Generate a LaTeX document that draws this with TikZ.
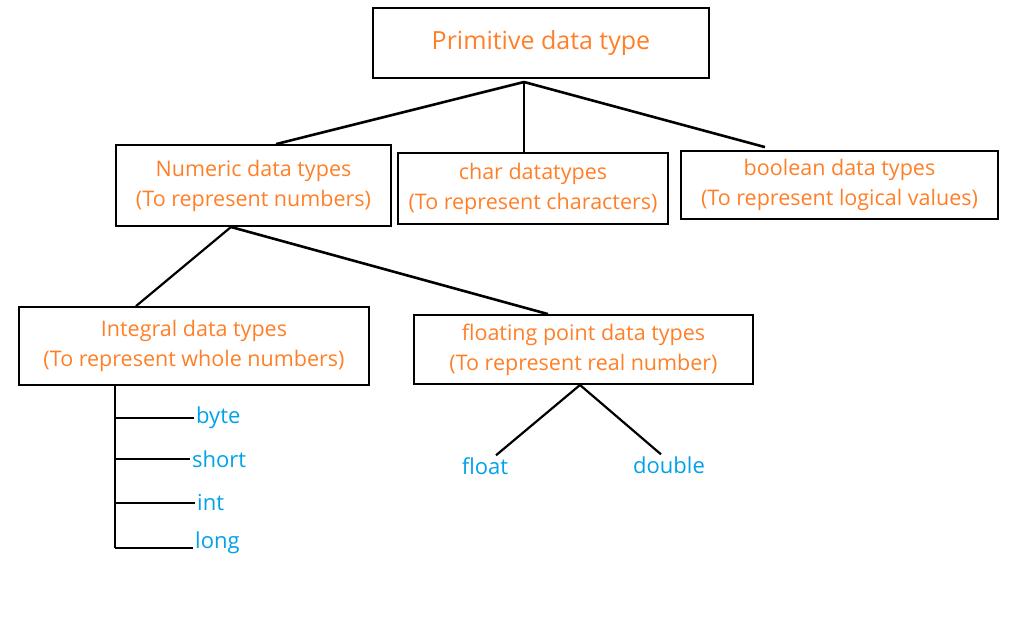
\documentclass[tikz,border=0pt]{standalone}
\usepackage{fontspec}
\setmainfont{Open Sans}
\usepackage{xcolor}
\usetikzlibrary{positioning, calc}

\definecolor{paintorange}{RGB}{255,127,39}
\definecolor{paintblue}{RGB}{0,162,232}

\begin{document}
\begin{tikzpicture}[
    x=1pt, y=-1pt,
    typebox/.style={rectangle, draw, line width=1.8pt, align=center, text=paintorange, font=\fontsize{21.5}{30}\selectfont},
    leaf/.style={text=paintblue, font=\fontsize{22}{26}\selectfont, inner sep=2pt},
    branch/.style={draw, line width=2.6pt},
]
    \useasboundingbox (0,0) rectangle (1021,629);

    \node[typebox, minimum width=336pt, minimum height=70pt, font=\fontsize{25}{30}\selectfont] (prim) at (541,43) {Primitive data type};
    \node[typebox, minimum width=275pt, minimum height=81pt] (num) at (253.5,185.5) {Numeric data types\\(To represent numbers)};
    \node[typebox, minimum width=270pt, minimum height=71pt] (char) at (533,188.5) {char datatypes\\(To represent characters)};
    \node[typebox, minimum width=317pt, minimum height=68pt] (bool) at (839.5,185) {boolean data types\\(To represent logical values)};
    \node[typebox, minimum width=350pt, minimum height=78pt] (intg) at (194,346) {Integral data types\\(To represent whole numbers)};
    \node[typebox, minimum width=339pt, minimum height=69pt] (flt) at (583.5,349.5) {floating point data types\\(To represent real number)};

    % integral leaves
    \node[leaf, anchor=west] (byte) at (194,418) {byte};
    \node[leaf, anchor=west] (short) at (190,459) {short};
    \node[leaf, anchor=west] (int) at (195,503) {int};
    \node[leaf, anchor=west] (long) at (193,543) {long};

    % floating leaves
    \node[leaf] (float) at (485,466) {float};
    \node[leaf] (double) at (669,465) {double};

    % top level
    \coordinate (primfork) at (524,82);
    \path[branch] (primfork) -- ([xshift=22.5pt]num.north);
    \path[branch] (primfork) -- (primfork |- char.north);
    \path[branch] (primfork) -- ([xshift=-74.5pt,yshift=3pt]bool.north);

    % numeric
    \coordinate (numfork) at (231,227);
    \path[branch, line width=2.2pt] (numfork) -- ([xshift=-58pt]intg.north);
    \path[branch] (numfork) -- ([xshift=-35.5pt]flt.north);

    % integral
    \coordinate (spine) at ([xshift=-79pt]intg.south);
    \path[branch] (spine) -- ([yshift=-5pt]spine |- long.west);
    \foreach \t in {byte, short, int}
        \path[branch] (spine |- \t.west) -- (\t.west);
    \path[branch] ([yshift=-5pt]spine |- long.west) -- ([yshift=-5pt]long.west);

    % floating
    \coordinate (fltfork) at (580,385);
    \path[branch, line width=2.2pt] (fltfork) -- ([xshift=11pt]float.north);
    \path[branch, line width=2.2pt] (fltfork) -- ([xshift=-8pt]double.north);
\end{tikzpicture}
\end{document}
